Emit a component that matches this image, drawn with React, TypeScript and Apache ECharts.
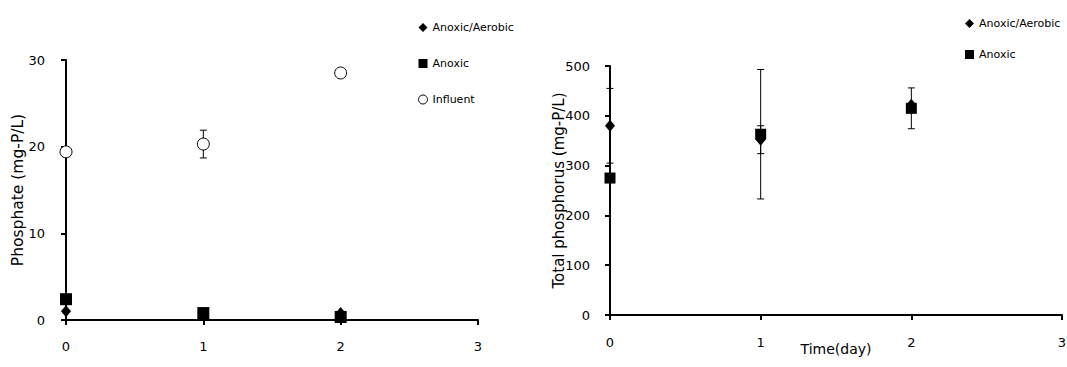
import React, { useEffect, useRef } from "react";
import * as echarts from "echarts";

const days = [0, 1, 2];
const xTicks = [0, 1, 2, 3];

// Left panel: Phosphate (mg-P/L)
const phosAnoxAer = [1.0, 0.7, 0.8];
const phosAnoxic = [2.4, 0.8, 0.35];
const phosInfluent = [19.4, 20.3, 28.5];
const phosInfluentErr = [0, 1.6, 0];

// Right panel: Total phosphorus (mg-P/L)
const tpAnoxAer = [380, 352, 422];
const tpAnoxAerErr = [75, 28, 0];
const tpAnoxic = [275, 363, 415];
const tpAnoxicErr = [0, 130, 41];

const FONT = "DejaVu Sans";

const pts = (vals: number[]) => days.map((d, i) => [d, vals[i]]);
const errs = (vals: number[], e: number[]) =>
  days
    .map((d, i) => [d, vals[i] - e[i], vals[i] + e[i]])
    .filter((r, i) => e[i] > 0);

const errRender = (params: any, api: any) => {
  const x = api.value(0);
  const lo = api.value(1);
  const hi = api.value(2);
  const p1 = api.coord([x, hi]);
  const p2 = api.coord([x, lo]);
  const w = 3.5;
  const st = { stroke: "#000", lineWidth: 1 };
  return {
    type: "group",
    children: [
      { type: "line", shape: { x1: p1[0], y1: p1[1], x2: p2[0], y2: p2[1] }, style: st },
      { type: "line", shape: { x1: p1[0] - w, y1: p1[1], x2: p1[0] + w, y2: p1[1] }, style: st },
      { type: "line", shape: { x1: p2[0] - w, y1: p2[1], x2: p2[0] + w, y2: p2[1] }, style: st },
    ],
  };
};

const axisCommon = {
  axisLine: { show: true, onZero: false, lineStyle: { color: "#000", width: 2 } },
  axisTick: { show: true, inside: false, length: 5, lineStyle: { color: "#000", width: 2 } },
  splitLine: { show: false },
  axisLabel: { color: "#000", fontFamily: FONT, fontSize: 13 },
};

const black = { color: "#000", opacity: 1 };
const legendText = { color: "#000", fontFamily: FONT, fontSize: 11 };

export default function App() {
  const ref = useRef<HTMLDivElement>(null);
  useEffect(() => {
    if (!ref.current) return;
    const chart = echarts.init(ref.current, undefined, { renderer: "svg" });
    chart.setOption({
      animation: false,
      backgroundColor: "#fff",
      textStyle: { fontFamily: FONT },
      grid: [
        { left: 66, top: 60, width: 412, height: 260, outerBoundsMode: "none", containLabel: false },
        { left: 610, top: 66, width: 452, height: 249, outerBoundsMode: "none", containLabel: false },
      ],
      legend: [
        {
          orient: "vertical",
          left: 413,
          top: 17,
          itemWidth: 9,
          itemHeight: 9,
          itemGap: 25,
          textStyle: legendText,
          data: [
            { name: "Anoxic/Aerobic", icon: "diamond", itemStyle: black },
            { name: "Anoxic", icon: "rect", itemStyle: black },
            {
              name: "Influent",
              icon: "circle",
              itemStyle: { color: "#fff", borderColor: "#000", borderWidth: 1, opacity: 1 },
            },
          ],
          selectedMode: false,
        },
        {
          orient: "vertical",
          left: 960,
          top: 13,
          itemWidth: 9,
          itemHeight: 9,
          itemGap: 20,
          textStyle: legendText,
          data: [
            { name: "Anoxic/Aerobic", icon: "diamond", itemStyle: black },
            { name: "Anoxic", icon: "rect", itemStyle: black },
          ],
          selectedMode: false,
        },
      ],
      xAxis: [
        {
          ...axisCommon,
          type: "value",
          gridIndex: 0,
          min: xTicks[0],
          max: xTicks[xTicks.length - 1],
          interval: 1,
          axisLabel: { ...axisCommon.axisLabel, margin: 20 },
        },
        {
          ...axisCommon,
          type: "value",
          gridIndex: 1,
          min: xTicks[0],
          max: xTicks[xTicks.length - 1],
          interval: 1,
          axisLabel: { ...axisCommon.axisLabel, margin: 21 },
          name: "Time(day)",
          nameLocation: "middle",
          nameGap: 27,
          nameMoveOverlap: false,
          nameTextStyle: { color: "#000", fontFamily: FONT, fontSize: 14 },
        },
      ],
      yAxis: [
        {
          ...axisCommon,
          type: "value",
          gridIndex: 0,
          min: 0,
          max: 30,
          interval: 10,
          axisLabel: { ...axisCommon.axisLabel, margin: 21 },
          name: "Phosphate (mg-P/L)",
          nameLocation: "middle",
          nameRotate: 90,
          nameGap: 40,
          nameMoveOverlap: false,
          nameTextStyle: { color: "#000", fontFamily: FONT, fontSize: 15.5 },
        },
        {
          ...axisCommon,
          type: "value",
          gridIndex: 1,
          min: 0,
          max: 500,
          interval: 100,
          axisLabel: { ...axisCommon.axisLabel, margin: 20 },
          name: "Total phosphorus (mg-P/L)",
          nameLocation: "middle",
          nameRotate: 90,
          nameGap: 44,
          nameMoveOverlap: false,
          nameTextStyle: { color: "#000", fontFamily: FONT, fontSize: 15 },
        },
      ],
      series: [
        {
          type: "custom",
          name: "errInfluent",
          xAxisIndex: 0,
          yAxisIndex: 0,
          renderItem: errRender,
          encode: { x: 0, y: [1, 2] },
          data: errs(phosInfluent, phosInfluentErr),
          z: 1,
        },
        {
          type: "scatter",
          name: "Anoxic/Aerobic",
          xAxisIndex: 0,
          yAxisIndex: 0,
          symbol: "diamond",
          symbolSize: [10, 12],
          itemStyle: black,
          data: pts(phosAnoxAer),
          z: 2,
        },
        {
          type: "scatter",
          name: "Anoxic",
          xAxisIndex: 0,
          yAxisIndex: 0,
          symbol: "rect",
          symbolSize: 12,
          itemStyle: black,
          data: pts(phosAnoxic),
          z: 3,
        },
        {
          type: "scatter",
          name: "Influent",
          xAxisIndex: 0,
          yAxisIndex: 0,
          symbol: "circle",
          symbolSize: 12,
          itemStyle: { color: "#fff", borderColor: "#000", borderWidth: 1, opacity: 1 },
          data: pts(phosInfluent),
          z: 3,
        },
        {
          type: "custom",
          name: "errTpAA",
          xAxisIndex: 1,
          yAxisIndex: 1,
          renderItem: errRender,
          encode: { x: 0, y: [1, 2] },
          data: errs(tpAnoxAer, tpAnoxAerErr),
          z: 1,
        },
        {
          type: "custom",
          name: "errTpA",
          xAxisIndex: 1,
          yAxisIndex: 1,
          renderItem: errRender,
          encode: { x: 0, y: [1, 2] },
          data: errs(tpAnoxic, tpAnoxicErr),
          z: 1,
        },
        {
          type: "scatter",
          name: "Anoxic/Aerobic",
          xAxisIndex: 1,
          yAxisIndex: 1,
          symbol: "diamond",
          symbolSize: [10, 12],
          itemStyle: black,
          data: pts(tpAnoxAer),
          z: 2,
        },
        {
          type: "scatter",
          name: "Anoxic",
          xAxisIndex: 1,
          yAxisIndex: 1,
          symbol: "rect",
          symbolSize: 11,
          itemStyle: black,
          data: pts(tpAnoxic),
          z: 3,
        },
      ],
    });
    return () => chart.dispose();
  }, []);
  return (
    <div
      ref={ref}
      style={{ position: "fixed", left: 0, top: 0, width: 1067, height: 367 }}
    />
  );
}
